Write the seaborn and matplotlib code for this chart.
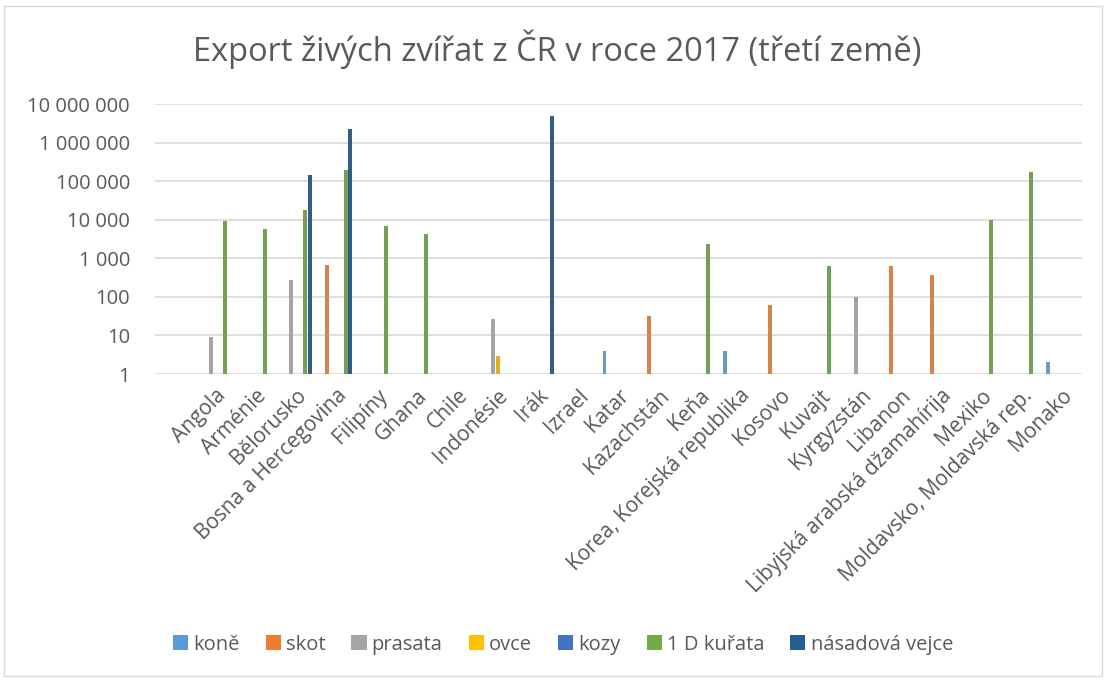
import numpy as np
import pandas as pd
import matplotlib
matplotlib.use("Agg")
import matplotlib.pyplot as plt
from matplotlib.patches import Patch, Rectangle
from matplotlib.ticker import FuncFormatter, FixedLocator, NullLocator
import seaborn as sns

categories = [" ", "Angola", "Arménie", "Bělorusko", "Bosna a Hercegovina", "Filipíny", "Ghana",
              "Chile", "Indonésie", "Irák", "Izrael", "Katar", "Kazachstán", "Keňa",
              "Korea, Korejská republika", "Kosovo", "Kuvajt", "Kyrgyzstán", "Libanon",
              "Libyjská arabská džamahírija", "Mexiko", "Moldavsko, Moldavská rep.", "Monako"]

series_names = ["koně", "skot", "prasata", "ovce", "kozy", "1 D kuřata", "násadová vejce"]
series_colors = ["#5B9BD5", "#ED7D31", "#A5A5A5", "#FFC000", "#4472C4", "#70AD47", "#255E91"]

kone = {"Katar": 4, "Korea, Korejská republika": 4, "Monako": 2}
skot = {"Bosna a Hercegovina": 690, "Kazachstán": 32, "Kosovo": 63, "Libanon": 615,
        "Libyjská arabská džamahírija": 365}
prasata = {"Angola": 9, "Bělorusko": 276, "Indonésie": 27, "Kyrgyzstán": 100}
ovce = {"Indonésie": 3}
kozy = {}
kurata = {"Angola": 9500, "Arménie": 5700, "Bělorusko": 18000, "Bosna a Hercegovina": 199000,
          "Filipíny": 6900, "Ghana": 4200, "Keňa": 2400, "Kuvajt": 630, "Mexiko": 9900,
          "Moldavsko, Moldavská rep.": 173000}
vejce = {"Bělorusko": 145000, "Bosna a Hercegovina": 2290000, "Irák": 4800000}

y_ticks = [1, 10, 100, 1000, 10000, 100000, 1000000, 10000000]

series_values = [kone, skot, prasata, ovce, kozy, kurata, vejce]
rows = []
for name, vals in zip(series_names, series_values):
    for c, v in vals.items():
        rows.append({"země": c, "druh": name, "počet": v})
df = pd.DataFrame(rows)

sns.set_style("white")
plt.rcParams["font.family"] = ["Open Sans", "DejaVu Sans"]

fig = plt.figure(figsize=(11.08, 6.8), dpi=100)
ax = fig.add_axes([155 / 1108, 1 - 374 / 680, (1082 - 155) / 1108, (374 - 104) / 680])

palette = dict(zip(series_names, series_colors))
sns.barplot(data=df, x="země", y="počet", hue="druh", order=categories, hue_order=series_names,
            palette=palette, width=0.81, gap=0.15, dodge=True, linewidth=0, ax=ax,
            legend=False, errorbar=None)

ax.set_yscale("log")
ax.set_ylim(1, 1e7)
ax.set_xlim(-0.5, len(categories) - 0.5)
ax.yaxis.set_major_locator(FixedLocator(y_ticks))
ax.yaxis.set_minor_locator(NullLocator())
ax.yaxis.set_major_formatter(FuncFormatter(lambda v, p: f"{int(round(v)):,}".replace(",", " ")))
ax.grid(axis="y", color="#D9D9D9", linewidth=1.2)
ax.set_axisbelow(True)
for s in ax.spines.values():
    s.set_visible(False)
ax.tick_params(axis="both", length=0, colors="#595959")
ax.tick_params(axis="y", pad=18, labelsize=14.5)
ax.tick_params(axis="x", pad=8, labelsize=15)
ax.set_xlabel("")
ax.set_ylabel("")
ax.set_xticks(range(len(categories)))
ax.set_xticklabels(categories, rotation=45, ha="right", rotation_mode="anchor")

fig.text(0.503, 0.927, "Export živých zvířat z ČR v roce 2017 (třetí země)", ha="center", va="center",
         fontsize=23.5, color="#595959")

handles = [Patch(facecolor=c, edgecolor="none") for c in series_colors]
fig.legend(handles, series_names, loc="center", bbox_to_anchor=(0.508, 0.052), ncol=7, frameon=False,
           fontsize=14.5, labelcolor="#595959", handlelength=0.75, handleheight=0.75,
           handletextpad=0.25, columnspacing=1.3)

fig.patches.append(Rectangle((4 / 1108, 4 / 680), 1 - 10 / 1108, 1 - 10 / 680, transform=fig.transFigure,
                             fill=False, edgecolor="#D9D9D9", linewidth=1))

fig.savefig("out.png", dpi=100, facecolor="white")
